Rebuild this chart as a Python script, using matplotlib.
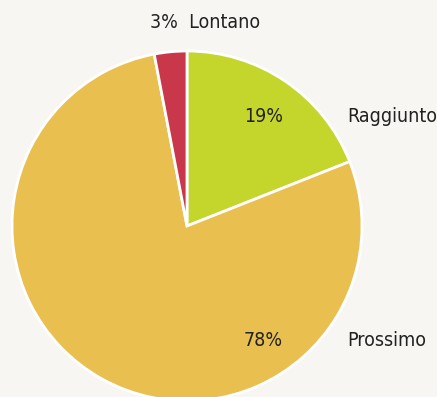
import matplotlib.pyplot as plt

labels = ['Raggiunto', 'Prossimo', 'Lontano']
values = [19, 78, 3]
colors = ['#c4d62c', '#e9bf50', '#c9374a']

plt.rcParams['font.family'] = ['DejaVu Sans']

fig = plt.figure(figsize=(4.37, 3.97), dpi=100)
fig.patch.set_facecolor('#f7f6f3')
ax = fig.add_axes([0, 0, 1, 1])
ax.set_facecolor('#f7f6f3')

# pie placed in pixel-like coordinates (y up)
ax.pie(values, colors=colors, startangle=90, counterclock=False,
       center=(187, 171), radius=175,
       wedgeprops=dict(edgecolor='white', linewidth=2))
ax.set_xlim(0, 437)
ax.set_ylim(0, 397)
ax.set_aspect('equal')
ax.axis('off')

kw = dict(va='center', fontsize=14, color='#222222', fontstretch='condensed')
ax.text(150, 374, f'{values[2]}%  {labels[2]}', ha='left', **kw)
ax.text(264, 280, f'{values[0]}%', ha='center', **kw)
ax.text(347, 280, labels[0], ha='left', **kw)
ax.text(263, 57, f'{values[1]}%', ha='center', **kw)
ax.text(347, 57, labels[1], ha='left', **kw)

fig.savefig('out.png', dpi=100, facecolor=fig.get_facecolor())
